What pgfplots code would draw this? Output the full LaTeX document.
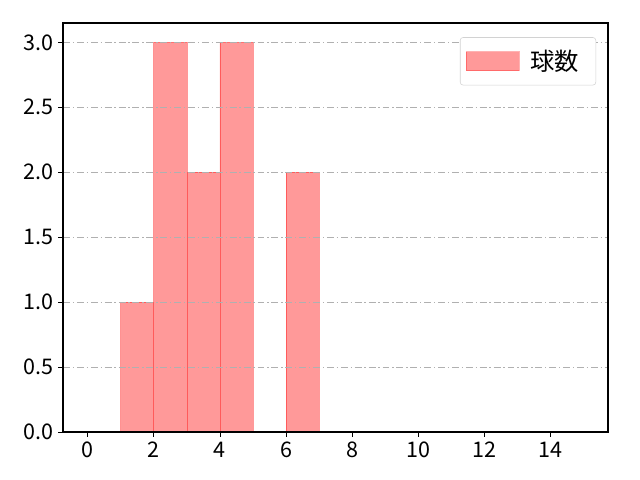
\documentclass[border=0pt]{standalone}
\usepackage{fontspec}
\setmainfont{Noto Sans CJK JP}
\usepackage{pgfplots}
\pgfplotsset{compat=1.18}
\definecolor{barfill}{RGB}{255,153,153}
\definecolor{gridgray}{RGB}{176,176,176}

\begin{document}
\begin{tikzpicture}
    \useasboundingbox (-45.4pt,-34.6pt) rectangle (415.4pt,311pt);
    \begin{axis}[
            at = {(0,0)}, anchor = south west,
            scale only axis,
            width = 392.4pt, height = 294.5pt,
            xmin = -0.75, xmax = 15.75,
            ymin = 0, ymax = 3.15,
            xtick = {0,2,...,14},
            ytick = {0,0.5,...,3.0},
            yticklabel style = {/pgf/number format/fixed, /pgf/number format/fixed zerofill, /pgf/number format/precision=1},
            /pgf/number format/assume math mode = true,
            tick align = outside,
            tick pos = left,
            major tick length = 3.5pt,
            tick style = {black, line width=0.6pt},
            axis line style = {line width=0.9pt},
            axis on top,
            ymajorgrids = true,
            major grid style = {gridgray, dash pattern=on 5pt off 2pt on 1pt off 2pt, line width=0.6pt},
            ticklabel style = {font=\fontsize{15.5}{17}\selectfont},
            legend style = {at={(0.978,0.965)}, anchor=north east, draw=gray!35, rounded corners=2pt,
                font=\fontsize{17.5}{19}\selectfont, inner xsep=4pt, inner ysep=7pt},
            legend cell align = {left},
            legend image code/.code = {\fill[barfill, draw=red, draw opacity=0.3, sharp corners] (0pt,-6.8pt) rectangle (38pt,6.8pt);},
            legend style = {nodes={inner xsep=8pt}},
        ]
        \addplot[ybar interval, fill=barfill, draw=red, draw opacity=0.4, line width=0.6pt] coordinates {
                (1,1) (2,3) (3,2) (4,3) (5,3)
            };
        \addlegendentry{球数}
        \addplot[ybar interval, fill=barfill, draw=red, draw opacity=0.4, line width=0.6pt, forget plot] coordinates {
                (6,2) (7,2)
            };
    \end{axis}
\end{tikzpicture}
\end{document}
